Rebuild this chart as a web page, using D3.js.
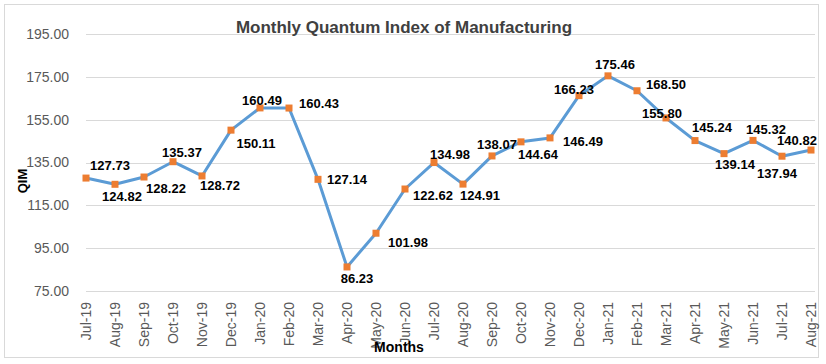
<!DOCTYPE html>
<html>
<head>
<meta charset="utf-8">
<script src="https://cdn.jsdelivr.net/npm/d3@7"></script>
<style>
  body { margin: 0; background: #fff; }
  text { font-family: "Liberation Sans", Arial, sans-serif; }
</style>
</head>
<body>
<div id="chart"></div>
<script>
// data
const months = ["Jul-19","Aug-19","Sep-19","Oct-19","Nov-19","Dec-19","Jan-20","Feb-20","Mar-20","Apr-20","May-20","Jun-20",
  "Jul-20","Aug-20","Sep-20","Oct-20","Nov-20","Dec-20","Jan-21","Feb-21","Mar-21","Apr-21","May-21","Jun-21","Jul-21","Aug-21"];
const qim = [127.73,124.82,128.22,135.37,128.72,150.11,160.49,160.43,127.14,86.23,101.98,122.62,
  134.98,124.91,138.07,144.64,146.49,166.23,175.46,168.50,155.80,145.24,139.14,145.32,137.94,140.82];
const yTicks = [75,95,115,135,155,175,195];

// label offsets (dx, dy) from each marker
const labelOffsets = [[24,-13],[7,12],[22,11],[9,-9],[18,10],[25,13],[2,-7],[30,-5],[29,0],[10,12],[32,9],[28,6],
  [16,-8],[17,11],[5,-11],[17,13],[33,4],[-5,-6],[7,-11],[29,-6],[-4,-5],[17,-13],[11,11],[13,-11],[-5,17],[-14,-10]];

const width = 826, height = 364;
const x0 = 86, x1 = 811;
const svg = d3.select("#chart").append("svg")
    .attr("width", width)
    .attr("height", height);

svg.append("rect")
    .attr("x", 4.5).attr("y", 4.5)
    .attr("width", 814).attr("height", 353)
    .attr("fill", "#fff")
    .attr("stroke", "#d9d9d9");

const x = d3.scalePoint().domain(months).range([x0, x1]);
const y = d3.scaleLinear().domain([75, 195]).range([291, 34]);

// gridlines
svg.append("g").selectAll("line").data(yTicks).join("line")
    .attr("x1", x0).attr("x2", 815)
    .attr("y1", d => Math.round(y(d)) + 0.5)
    .attr("y2", d => Math.round(y(d)) + 0.5)
    .attr("stroke", "#d9d9d9");

// y axis labels
const yAxis = d3.axisLeft(y).tickValues(yTicks).tickFormat(d3.format(".2f")).tickSize(0).tickPadding(0);
svg.append("g")
    .attr("transform", "translate(69,0)")
    .call(yAxis)
    .call(g => g.select(".domain").remove())
    .selectAll("text")
    .attr("fill", "#595959")
    .style("font-size", "14px")
    .style("font-family", "Liberation Sans, Arial, sans-serif");

// x axis labels
const xAxis = d3.axisBottom(x).tickSize(0).tickPadding(0);
svg.append("g")
    .attr("transform", "translate(0,302)")
    .call(xAxis)
    .call(g => g.select(".domain").remove())
    .selectAll("text")
    .attr("transform", "rotate(-90)")
    .attr("text-anchor", "end")
    .attr("x", 0)
    .attr("y", 0)
    .attr("dy", "0.35em")
    .attr("fill", "#595959")
    .style("font-size", "14px")
    .style("font-family", "Liberation Sans, Arial, sans-serif");

// line
const line = d3.line().x((d, i) => x(months[i])).y(d => y(d));
svg.append("path")
    .datum(qim)
    .attr("d", line)
    .attr("fill", "none")
    .attr("stroke", "#5b9bd5")
    .attr("stroke-width", 3)
    .attr("stroke-linejoin", "round");

// markers
svg.append("g").selectAll("rect").data(qim).join("rect")
    .attr("x", (d, i) => x(months[i]) - 3.5)
    .attr("y", d => y(d) - 3.5)
    .attr("width", 7).attr("height", 7)
    .attr("fill", "#ed7d31");

// data labels
svg.append("g").selectAll("text").data(qim).join("text")
    .attr("x", (d, i) => x(months[i]) + labelOffsets[i][0])
    .attr("y", (d, i) => y(d) + labelOffsets[i][1])
    .attr("dy", "0.35em")
    .attr("text-anchor", "middle")
    .attr("font-size", 13)
    .attr("font-weight", "bold")
    .attr("fill", "#000")
    .text(d => d.toFixed(2));

// title
svg.append("text")
    .attr("x", 404).attr("y", 33)
    .attr("text-anchor", "middle")
    .attr("font-size", 17)
    .attr("font-weight", "bold")
    .attr("fill", "#404040")
    .text("Monthly Quantum Index of Manufacturing");

// axis titles
svg.append("text")
    .attr("transform", "translate(27,181) rotate(-90)")
    .attr("text-anchor", "middle")
    .attr("font-size", 13)
    .attr("font-weight", "bold")
    .text("QIM");

svg.append("text")
    .attr("x", 399).attr("y", 352)
    .attr("text-anchor", "middle")
    .attr("font-size", 14)
    .attr("font-weight", "bold")
    .text("Months");
</script>
</body>
</html>
